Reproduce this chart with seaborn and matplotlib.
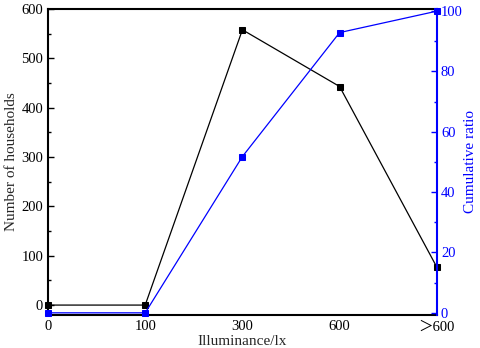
import matplotlib
matplotlib.use("Agg")
import matplotlib.pyplot as plt
import seaborn as sns
import pandas as pd
from matplotlib.ticker import MultipleLocator

categories = ["0", "100", "300", "600", "＞600"]
households = [0, 0, 558, 443, 77]
cumulative = [0, 0, 51.8, 92.9, 100]

sns.set_style("white")
plt.rcParams['font.family'] = ['Liberation Serif', 'Noto Sans CJK SC', 'DejaVu Serif']

df = pd.DataFrame({"x": range(len(categories)), "h": households, "c": cumulative})

fig = plt.figure(figsize=(4.8, 3.48), dpi=100)
ax = fig.add_axes([0.1, 0.095, 0.81, 0.879])
ax2 = ax.twinx()

sns.lineplot(data=df, x="x", y="h", ax=ax, color="black", marker="s", markersize=5,
             linewidth=0.9, markeredgecolor="black", clip_on=False)
sns.lineplot(data=df, x="x", y="c", ax=ax2, color="blue", marker="s", markersize=5,
             linewidth=0.9, markeredgecolor="blue", clip_on=False)

ax.set_xlim(0, 4)
ax.set_ylim(-20, 600)
ax2.set_ylim(-0.7, 100.7)

ax.set_xticks(range(len(categories)))
ax.set_xticklabels(categories)
ax.set_yticks(range(0, 601, 100))
ax.yaxis.set_minor_locator(MultipleLocator(50))
ax2.set_yticks(range(0, 101, 20))
ax2.yaxis.set_minor_locator(MultipleLocator(10))

ax.set_xlabel("Illuminance/lx", fontsize=11, labelpad=1)
ax.set_ylabel("Number of households", fontsize=11, labelpad=2)
ax2.set_ylabel("Cumulative ratio", fontsize=11, color="blue", labelpad=1)

ax.tick_params(axis="both", which="both", direction="in", labelsize=10.5, colors="black")
ax.tick_params(axis="y", which="major", length=4, width=1)
ax.tick_params(axis="y", which="minor", length=2.5, width=1, left=True)
ax.tick_params(axis="x", which="major", length=4, width=1, pad=4)
ax2.tick_params(axis="y", which="both", direction="in", colors="blue", labelsize=10.5, pad=3)
ax2.tick_params(axis="y", which="major", length=4, width=1)
ax2.tick_params(axis="y", which="minor", length=2.5, width=1)

for s in ["left", "bottom", "top"]:
    ax.spines[s].set_linewidth(1.5)
    ax.spines[s].set_color("black")
for s in ["left", "bottom", "top"]:
    ax2.spines[s].set_visible(False)
ax.spines["right"].set_visible(False)
ax2.spines["right"].set_color("blue")
ax2.spines["right"].set_linewidth(1.5)

fig.savefig("out.png", dpi=100)
